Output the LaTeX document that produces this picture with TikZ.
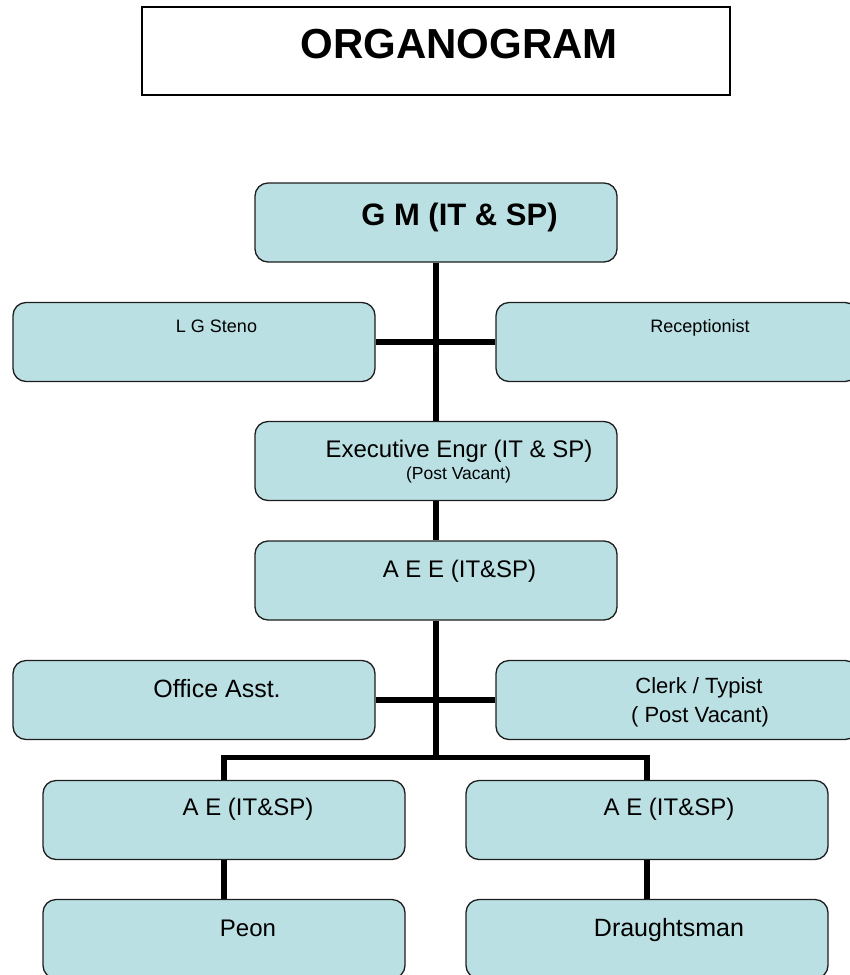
\documentclass[tikz,border=0pt]{standalone}
\usepackage{fontspec}
\setmainfont{Liberation Sans}
\usepackage{tikz}
\definecolor{boxblue}{RGB}{187,224,227}
\definecolor{edgegray}{RGB}{30,30,30}

\begin{document}
\begin{tikzpicture}[x=1pt,y=-1pt,
  post/.style={rectangle,rounded corners=13pt,draw=edgegray,line width=1.3pt,fill=boxblue,
    minimum width=362pt,minimum height=79pt,inner sep=0pt},
  txt/.style={anchor=base,inner sep=0pt},
  link/.style={line width=5.5pt,black}]
\useasboundingbox (0,0) rectangle (850,975);
% title
\node (title) at (436,51) [rectangle,draw=black,line width=1.6pt,minimum width=588pt,minimum height=88pt] {};
\node (titletxt) at (459,58) [txt,font=\fontsize{42}{46}\selectfont\bfseries] {ORGANOGRAM};
% boxes
\node (gm) at (436,222.5) [post] {};
\node (lg) at (194,342) [post] {};
\node (rc) at (677,342) [post] {};
\node (ee) at (436,461) [post] {};
\node (aee) at (436,580.5) [post] {};
\node (oa) at (194,700) [post] {};
\node (ct) at (677,700) [post] {};
\node (ae1) at (224,820) [post] {};
\node (ae2) at (647,820) [post] {};
\node (pe) at (224,939) [post] {};
\node (dr) at (647,939) [post] {};
% texts
\node (gmtxt) at (459.5,225) [txt,font=\fontsize{31}{34}\selectfont\bfseries] {G M (IT \& SP)};
\node (lgtxt) at (216.5,332) [txt,font=\fontsize{18}{20}\selectfont] {L G Steno};
\node (rctxt) at (700,332) [txt,font=\fontsize{18}{20}\selectfont] {Receptionist};
\node (eetxt) at (459,457) [txt,font=\fontsize{24}{26}\selectfont] {Executive Engr (IT \& SP)};
\node (eevac) at (458.5,479) [txt,font=\fontsize{17.5}{19}\selectfont] {(Post Vacant)};
\node (aeetxt) at (459.5,577) [txt,font=\fontsize{24}{26}\selectfont] {A E E (IT\&SP)};
\node (oatxt) at (217,697) [txt,font=\fontsize{25}{27}\selectfont] {Office Asst.};
\node (cttxt) at (699,693) [txt,font=\fontsize{22}{24}\selectfont] {Clerk / Typist};
\node (ctvac) at (700,722) [txt,font=\fontsize{22}{24}\selectfont] {( Post Vacant)};
\node (ae1txt) at (248,815) [txt,font=\fontsize{24}{26}\selectfont] {A E (IT\&SP)};
\node (ae2txt) at (669,815) [txt,font=\fontsize{24}{26}\selectfont] {A E (IT\&SP)};
\node (petxt) at (248,936) [txt,font=\fontsize{24}{26}\selectfont] {Peon};
\node (drtxt) at (669,936) [txt,font=\fontsize{25}{27}\selectfont] {Draughtsman};
% connectors
\coordinate (split) at (436,757.5);
\draw[link] (gm.south) -- (ee.north);
\draw[link] (lg.east) -- (rc.west);
\draw[link] (ee.south) -- (aee.north);
\draw[link] (aee.south) -- (split);
\draw[link] (oa.east) -- (ct.west);
\draw[link] (ae1.north) |- (split) -| (ae2.north);
\draw[link] (ae1.south) -- (pe.north);
\draw[link] (ae2.south) -- (dr.north);
\end{tikzpicture}
\end{document}
